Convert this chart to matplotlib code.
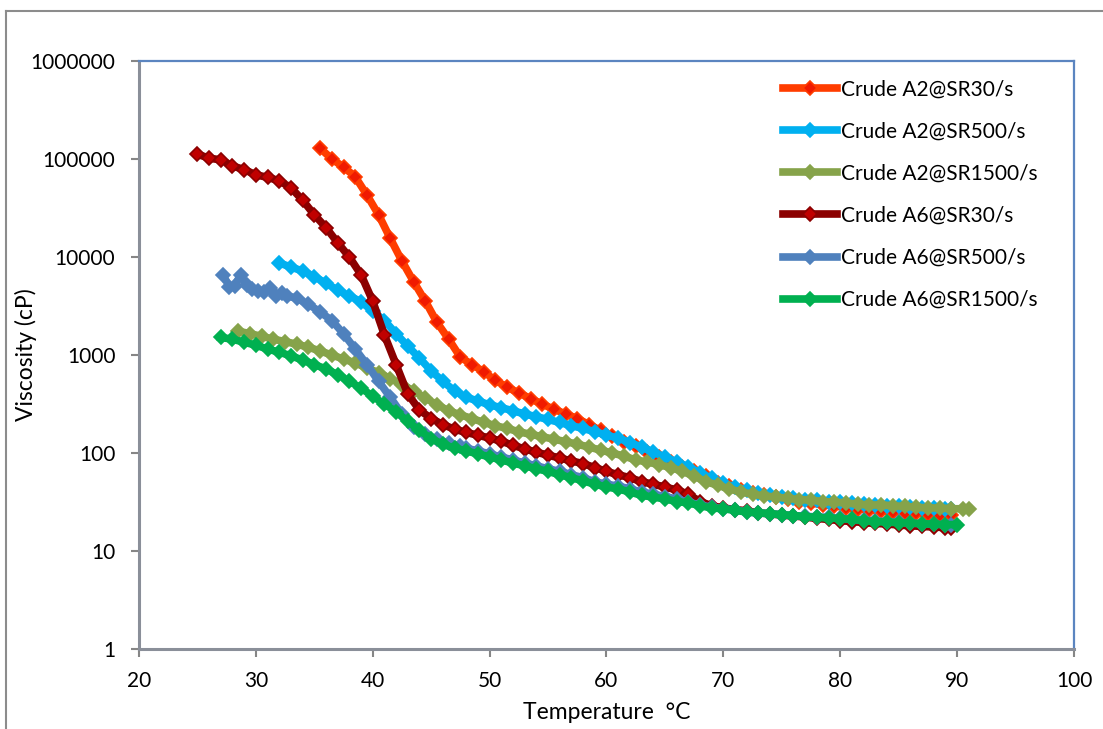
import matplotlib.pyplot as plt
from matplotlib.lines import Line2D

plt.rcParams['font.family'] = ['Lato', 'DejaVu Sans']

# Crude A2 at shear rate 30/s
t_a2_30 = [35.5, 36.5, 37.5, 38.5, 39.5, 40.5, 41.5, 42.5, 43.5, 44.5, 45.5, 46.5, 47.5, 48.5,
           49.5, 50.5, 51.5, 52.5, 53.5, 54.5, 55.5, 56.5, 57.5, 58.5, 59.5, 60.5, 61.5, 62.5,
           63.5, 64.5, 65.5, 66.5, 67.5, 68.5, 69.5, 70.5, 71.5, 72.5, 73.5, 74.5, 75.5, 76.5,
           77.5, 78.5, 79.5, 80.5, 81.5, 82.5, 83.5, 84.5, 85.5, 86.5, 87.5, 88.5, 89.5]
v_a2_30 = [129000, 100000, 83000, 66000, 43000, 27000, 15500, 9100, 5600, 3550, 2150, 1450, 950, 800,
           675, 550, 470, 410, 360, 315, 280, 250, 225, 195, 170, 148, 130, 117,
           102, 91, 81, 72, 65, 58, 50, 46, 42, 39, 37, 35.5, 34, 32,
           31, 29.5, 29, 27.5, 27, 26.3, 25.7, 25, 24.5, 24.3, 24, 23.5, 23.4]

# Crude A2 at shear rate 500/s
t_a2_500 = [32, 33, 34, 35, 36, 37, 38, 39, 40, 41, 42, 43, 44, 45, 46, 47, 48, 49, 50, 51,
            52, 53, 54, 55, 56, 57, 58, 59, 60, 61, 62, 63, 64, 65, 66, 67, 68, 69, 70, 71,
            72, 73, 74, 75, 76, 77, 78, 79, 80, 81, 82, 83, 84, 85, 86, 87, 88, 89, 89.5]
v_a2_500 = [8700, 7900, 7200, 6300, 5400, 4600, 4000, 3500, 2800, 2250, 1650, 1230, 930, 690, 540, 430, 370, 340, 310, 290,
            270, 250, 235, 220, 205, 190, 178, 165, 152, 142, 128, 115, 102, 91, 81, 72, 63, 55, 49, 45,
            42, 39, 37, 35.5, 34.5, 33.5, 33, 32, 31.5, 31, 30, 29.5, 29, 28.5, 28, 27.5, 27.5, 27, 27]

# Crude A2 at shear rate 1500/s
t_a2_1500 = [28.5, 29.5, 30.5, 31.5, 32.5, 33.5, 34.5, 35.5, 36.5, 37.5, 38.5, 39.5, 40.5, 41.5,
             42.5, 43.5, 44.5, 45.5, 46.5, 47.5, 48.5, 49.5, 50.5, 51.5, 52.5, 53.5, 54.5, 55.5,
             56.5, 57.5, 58.5, 59.5, 60.5, 61.5, 62.5, 63.5, 64.5, 65.5, 66.5, 67.5, 68.5, 69.5,
             70.5, 71.5, 72.5, 73.5, 74.5, 75.5, 76.5, 77.5, 78.5, 79.5, 80.5, 81.5, 82.5, 83.5,
             84.5, 85.5, 86.5, 87.5, 88.5, 89.5, 90.5, 91]
v_a2_1500 = [1750, 1650, 1550, 1450, 1370, 1290, 1200, 1100, 1000, 910, 830, 740, 660, 575,
             500, 430, 365, 310, 270, 245, 225, 205, 190, 178, 165, 155, 147, 138,
             131, 123, 115, 107, 100, 93, 85, 81, 76, 71, 65, 58, 51, 47,
             43, 40, 38, 36.5, 35.5, 34.5, 33.5, 33, 32, 31.5, 31, 30, 29.5, 29.5,
             29, 28.5, 28, 27.5, 27.5, 27, 27, 27]

# Crude A6 at shear rate 30/s
t_a6_30 = [25, 26, 27, 28, 29, 30, 31, 32, 33, 34, 35, 36, 37, 38, 39, 40, 41, 42, 43, 44,
           45, 46, 47, 48, 49, 50, 51, 52, 53, 54, 55, 56, 57, 58, 59, 60, 61, 62, 63, 64,
           65, 66, 67, 68, 69, 70, 71, 72, 73, 74, 75, 76, 77, 78, 79, 80, 81, 82, 83, 84,
           85, 86, 87, 88, 89, 89.5]
v_a6_30 = [112000, 102000, 98000, 85000, 78000, 69000, 65000, 60000, 51000, 38000, 27000, 20000, 14000, 10000, 6600, 3550, 1600, 800, 400, 275,
           225, 195, 175, 162, 152, 142, 132, 120, 110, 102, 95, 89, 83, 78, 71, 65, 60, 56, 51, 48,
           45, 42, 38, 32, 29, 27.5, 26.5, 25.7, 24.5, 24, 23.2, 22.8, 22.2, 21.5, 21, 20.4, 20, 19.5, 19.1, 18.9,
           18.4, 18.1, 17.8, 17.6, 17.3, 17.2]

# Crude A6 at shear rate 500/s
t_a6_500 = [27.2, 27.7, 28.2, 28.7, 29.2, 29.7, 30.2, 30.7, 31.2, 31.7, 32.2, 32.7, 33.5, 34.5,
            35.5, 36.5, 37.5, 38.5, 39.5, 40.5, 41.5, 42.5, 43.5, 44.5, 45.5, 46.5, 47.5, 48,
            49, 50, 51, 52, 53, 54, 55, 56, 57, 58, 59, 60, 61, 62, 63, 64, 65, 66, 67, 68,
            69, 70, 71, 72, 73, 74, 75, 76, 77, 78, 79, 80, 81, 82, 83, 84, 85, 86, 87, 88,
            89, 89.5]
v_a6_500 = [6600, 5000, 5100, 6600, 5200, 4700, 4500, 4400, 4800, 4000, 4250, 4000, 3800, 3300,
            2750, 2250, 1650, 1150, 800, 540, 370, 250, 186, 155, 138, 126, 117, 112,
            105, 98, 91, 85, 79, 74, 69, 65, 60, 56, 51, 48, 46, 43, 40, 38, 36, 34, 31.5, 29.5,
            28, 27, 26.3, 25, 24.5, 24, 23.5, 23, 22.6, 22.3, 22, 21.5, 21, 20.6, 20.3, 20, 19.6, 19.3, 19, 18.8,
            18.6, 18.6]

# Crude A6 at shear rate 1500/s
t_a6_1500 = [27, 28, 29, 30, 31, 32, 33, 34, 35, 36, 37, 38, 39, 40, 41, 42, 43, 44, 45, 46,
             47, 48, 49, 50, 51, 52, 53, 54, 55, 56, 57, 58, 59, 60, 61, 62, 63, 64, 65, 66,
             67, 68, 69, 70, 71, 72, 73, 74, 75, 76, 77, 78, 79, 80, 81, 82, 83, 84, 85, 86,
             87, 88, 89, 90]
v_a6_1500 = [1510, 1450, 1350, 1260, 1150, 1070, 980, 890, 800, 720, 630, 540, 460, 380, 315, 265, 210, 170, 140, 123,
             112, 105, 98, 91, 85, 79, 74, 69, 65, 60, 56, 52, 48, 45, 43, 40, 37, 35.5, 34, 32,
             31, 29, 27.5, 27, 26, 25, 24.5, 24, 23.5, 23, 22.5, 22, 21.8, 21.4, 21, 20.4, 20, 19.7, 19.5, 19.3,
             19, 18.8, 18.6, 18.6]

series = [
    ('Crude A2@SR30/s', t_a2_30, v_a2_30, '#FF3D00', '#F01A00', '#FF3D00'),
    ('Crude A2@SR500/s', t_a2_500, v_a2_500, '#00B0F0', '#00B0F0', '#00B0F0'),
    ('Crude A2@SR1500/s', t_a2_1500, v_a2_1500, '#86A34A', '#86A34A', '#86A34A'),
    ('Crude A6@SR30/s', t_a6_30, v_a6_30, '#8B0000', '#C00000', '#8B0000'),
    ('Crude A6@SR500/s', t_a6_500, v_a6_500, '#4F81BD', '#4F81BD', '#4F81BD'),
    ('Crude A6@SR1500/s', t_a6_1500, v_a6_1500, '#00B050', '#00B050', '#00B050'),
]

fig = plt.figure(figsize=(11.03, 7.29), dpi=100)
ax = fig.add_axes([0.126, 0.1097, 0.8477, 0.8066])

for name, t, v, lc, mfc, mec in series:
    ax.plot(t, v, color=lc, lw=5.5, marker='D', markersize=7.5,
            markerfacecolor=mfc, markeredgecolor=mec, markeredgewidth=1.2,
            label=name, solid_joinstyle='round')

ax.set_yscale('log')
ax.set_xlim(20, 100)
ax.set_ylim(1, 1000000)
ax.set_xticks(range(20, 101, 10))
ax.set_yticks([1, 10, 100, 1000, 10000, 100000, 1000000])
ax.set_yticklabels(['1', '10', '100', '1000', '10000', '100000', '1000000'])
ax.minorticks_off()
ax.tick_params(axis='both', direction='out', length=6, width=1.5, color='#868686',
               labelsize=15)
ax.tick_params(axis='x', pad=10)
ax.tick_params(axis='y', pad=11)

for side in ['left', 'bottom']:
    ax.spines[side].set_color('#8A8F99')
    ax.spines[side].set_linewidth(2.2)
for side in ['top', 'right']:
    ax.spines[side].set_color('#5B85C0')
    ax.spines[side].set_linewidth(1.6)

ax.set_xlabel('Temperature  °C', fontsize=16.5, labelpad=8)
ax.set_ylabel('Viscosity (cP)', fontsize=16.5)
ax.yaxis.set_label_coords(-0.109, 0.5)

ax.legend(loc='upper left', bbox_to_anchor=(0.7099, 0.891), bbox_transform=fig.transFigure,
          frameon=False, fontsize=15, handlelength=2.6, handletextpad=0.2,
          labelspacing=1.06, borderpad=0, borderaxespad=0)

# outer chart-area border (top and left edges)
fig.add_artist(Line2D([6 / 1103, 6 / 1103], [0, 1 - 11 / 729], transform=fig.transFigure,
                      color='#8C8C8C', lw=1.5))
fig.add_artist(Line2D([6 / 1103, 1], [1 - 11 / 729, 1 - 11 / 729], transform=fig.transFigure,
                      color='#8C8C8C', lw=1.5))

fig.savefig('out.png', dpi=100)
